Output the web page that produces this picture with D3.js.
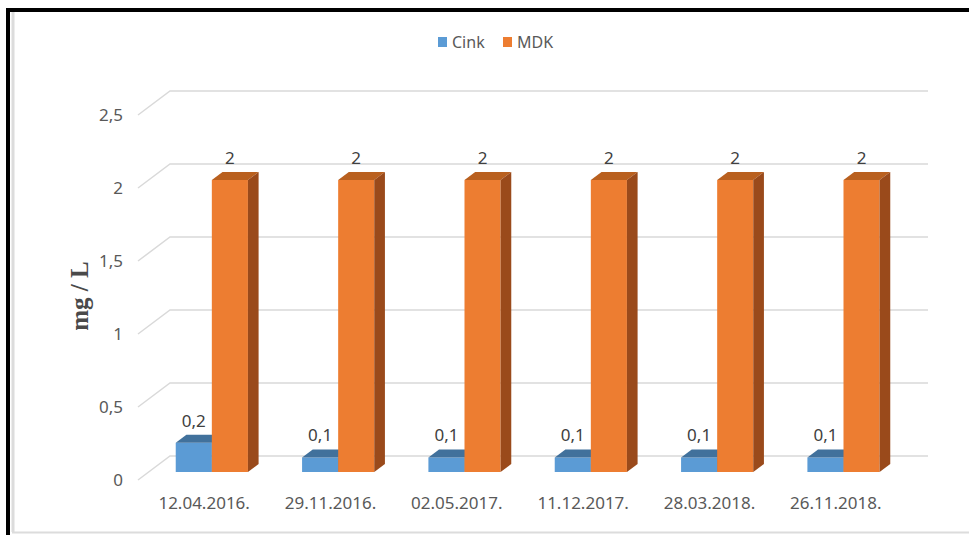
<!DOCTYPE html>
<html>
<head>
<meta charset="utf-8">
<script src="https://cdn.jsdelivr.net/npm/d3@7"></script>
<style>
  body { margin: 0; background: #fff; }
  text { font-family: "Noto Sans", sans-serif; }
</style>
</head>
<body>
<div id="chart"></div>
<script>
// chart data
var dates = ["12.04.2016.", "29.11.2016.", "02.05.2017.", "11.12.2017.", "28.03.2018.", "26.11.2018."];
var seriesNames = ["Cink", "MDK"];
var cinkValues = [0.2, 0.1, 0.1, 0.1, 0.1, 0.1];
var mdkValues = [2, 2, 2, 2, 2, 2];
var yTicks = [0, 0.5, 1, 1.5, 2, 2.5];

var svgWidth = 969;
var svgHeight = 535;

// back wall of the 3d plot + depth offset towards the viewer
var wall = { left: 170, right: 928, top: 91, bottom: 456 };
var depth = { dx: -32, dy: 24 };
var barFront = 2 / 3, barBack = 1 / 3;

var colors = {
    Cink: { front: "#5b9bd5", top: "#41719c", side: "#3a6a96" },
    MDK: { front: "#ed7d31", top: "#b9601f", side: "#9a4a1b" }
};

var fmt = function(v) { return String(v).replace(".", ","); };

var svg = d3.select("#chart")
    .append("svg")
    .attr("width", svgWidth)
    .attr("height", svgHeight);

// frame around the picture
svg.append("line")
    .attr("x1", 13).attr("x2", 13).attr("y1", 12).attr("y2", 532)
    .attr("stroke", "#dcdcdc").attr("stroke-width", 3);
svg.append("line")
    .attr("x1", 12).attr("x2", svgWidth).attr("y1", 532.5).attr("y2", 532.5)
    .attr("stroke", "#dcdcdc").attr("stroke-width", 2);
svg.append("path")
    .attr("d", "M8," + svgHeight + " L8,10 L" + svgWidth + ",10")
    .attr("fill", "none").attr("stroke", "#000").attr("stroke-width", 4);

// scales
var x0 = d3.scaleBand()
    .domain(dates)
    .range([wall.left, wall.right])
    .paddingInner(1.5 / 3.5)
    .paddingOuter(0.75 / 3.5);

var x1 = d3.scaleBand()
    .domain(seriesNames)
    .range([0, x0.bandwidth()]);

var yScale = d3.scaleLinear()
    .domain([0, 2.5])
    .range([wall.bottom, wall.top]);

// gridlines: diagonal on the side wall, then flat along the back wall
svg.append("g")
    .selectAll("path")
    .data(yTicks)
    .enter()
    .append("path")
    .attr("d", function(d) {
        var y = yScale(d);
        return "M" + (wall.left + depth.dx) + "," + (y + depth.dy) +
            " L" + wall.left + "," + y + " L" + wall.right + "," + y;
    })
    .attr("fill", "none")
    .attr("stroke", "#d9d9d9")
    .attr("stroke-width", 1.5);

// y tick labels
svg.append("g")
    .selectAll("text")
    .data(yTicks)
    .enter()
    .append("text")
    .attr("x", 123)
    .attr("y", function(d) { return yScale(d) + depth.dy + 6; })
    .attr("text-anchor", "end")
    .attr("font-size", 17)
    .attr("fill", "#595959")
    .text(fmt);

// y axis title
svg.append("text")
    .attr("transform", "translate(88,296) rotate(-90)")
    .attr("text-anchor", "middle")
    .attr("font-size", 25)
    .attr("font-weight", "bold")
    .style("font-family", "'Liberation Serif', serif")
    .attr("fill", "#4a4a4a")
    .text("mg / L");

// x category labels
svg.append("g")
    .selectAll("text")
    .data(dates)
    .enter()
    .append("text")
    .attr("x", function(d) { return x0(d) + x0.bandwidth() / 2 - 29; })
    .attr("y", 509)
    .attr("text-anchor", "middle")
    .attr("font-size", 17)
    .attr("fill", "#595959")
    .text(function(d) { return d; });

// bars
var bars = [];
dates.forEach(function(d, i) {
    bars.push({ date: d, series: "Cink", value: cinkValues[i] });
    bars.push({ date: d, series: "MDK", value: mdkValues[i] });
});

function pt(x, y, f) {
    return [x + depth.dx * f, y + depth.dy * f];
}

var barGroups = svg.append("g")
    .selectAll("g")
    .data(bars)
    .enter()
    .append("g");

barGroups.each(function(d) {
    var g = d3.select(this);
    var xl = x0(d.date) + x1(d.series);
    var xr = xl + x1.bandwidth();
    var yt = yScale(d.value);
    var yb = yScale(0);
    var c = colors[d.series];
    var line = function(p) { return "M" + p.join("L") + "Z"; };

    // front face
    g.append("path")
        .attr("d", line([pt(xl, yt, barFront), pt(xr, yt, barFront), pt(xr, yb, barFront), pt(xl, yb, barFront)]))
        .attr("fill", c.front);
    // top face
    g.append("path")
        .attr("d", line([pt(xl, yt, barFront), pt(xr, yt, barFront), pt(xr, yt, barBack), pt(xl, yt, barBack)]))
        .attr("fill", c.top);
    // right side face
    g.append("path")
        .attr("d", line([pt(xr, yt, barFront), pt(xr, yb, barFront), pt(xr, yb, barBack), pt(xr, yt, barBack)]))
        .attr("fill", c.side);

    // value label
    var lp = pt((xl + xr) / 2, yt, barFront);
    g.append("text")
        .attr("x", lp[0])
        .attr("y", pt(0, yt, barBack)[1] - 8)
        .attr("text-anchor", "middle")
        .attr("font-size", 17)
        .attr("fill", "#404040")
        .text(fmt(d.value));
});

// legend
var legend = svg.append("g")
    .selectAll("g")
    .data(seriesNames)
    .enter()
    .append("g")
    .attr("transform", function(d, i) { return "translate(" + (438 + i * 65) + ",37)"; });

legend.append("rect")
    .attr("width", 9)
    .attr("height", 10)
    .attr("fill", function(d) { return colors[d].front; });

legend.append("text")
    .attr("x", 14)
    .attr("y", 11)
    .attr("font-size", 16)
    .attr("fill", "#595959")
    .text(function(d) { return d; });
</script>
</body>
</html>
